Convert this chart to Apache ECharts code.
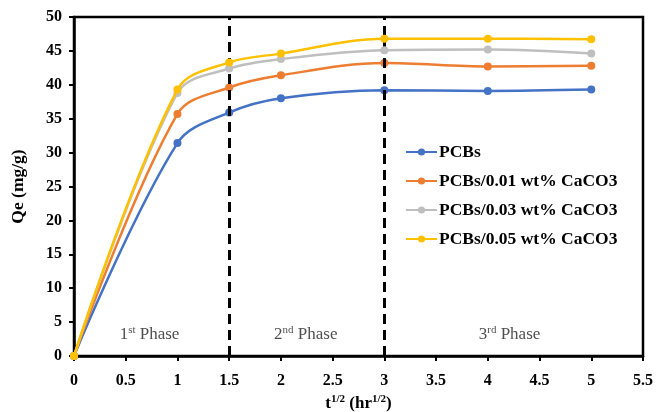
<!DOCTYPE html>
<html><head><meta charset="utf-8">
<script src="https://cdn.jsdelivr.net/npm/echarts@6/dist/echarts.min.js"></script>
<style>html,body{margin:0;padding:0;background:#fff}#c{width:668px;height:412px}</style>
</head><body><div id="c"></div>
<script>
const xValues = [0, 1, 1.5, 2, 3, 4, 5];
const seriesNames = ['PCBs', 'PCBs/0.01 wt% CaCO3', 'PCBs/0.03 wt% CaCO3', 'PCBs/0.05 wt% CaCO3'];
const pcbs = [0, 31.4, 35.9, 38.0, 39.2, 39.1, 39.3];
const pcbs001 = [0, 35.7, 39.6, 41.4, 43.2, 42.7, 42.8];
const pcbs003 = [0, 38.8, 42.4, 43.8, 45.1, 45.2, 44.6];
const pcbs005 = [0, 39.3, 43.3, 44.6, 46.8, 46.8, 46.7];
const colors = ['#4472C4', '#ED7D31', '#BFBFBF', '#FFC000'];
const phaseBounds = [1.5, 3];
const phaseLabels = [
  {x: 0.73, y: 3.2, text: '1{sup|st} Phase'},
  {x: 2.24, y: 3.2, text: '2{sup|nd} Phase'},
  {x: 4.21, y: 3.2, text: '3{sup|rd} Phase'}
];
const serif = '"Liberation Serif", "Times New Roman", serif';

const allData = [pcbs, pcbs001, pcbs003, pcbs005];
const series = allData.map((vals, i) => ({
  name: seriesNames[i],
  type: 'line',
  smooth: 0.35,
  symbol: 'circle',
  symbolSize: 8,
  data: xValues.map((x, j) => [x, vals[j]]),
  itemStyle: {color: colors[i]},
  lineStyle: {color: colors[i], width: 2.5},
  z: 3 + i
}));
series.push({
  type: 'scatter',
  data: phaseLabels.map(p => ({value: [p.x, p.y], label: {formatter: p.text}})),
  symbolSize: 0,
  silent: true,
  label: {
    show: true, position: 'inside', color: '#222',
    fontFamily: serif, fontSize: 17,
    rich: {sup: {fontFamily: serif, fontSize: 11, verticalAlign: 'top', padding: [0,0,9,0], color: '#222'}}
  },
  markLine: {
    silent: true, symbol: 'none',
    lineStyle: {color: '#000', width: 3, type: [10, 6]},
    label: {show: false},
    data: phaseBounds.map(b => ({xAxis: b}))
  },
  z: 2
});

const chart = echarts.init(document.getElementById('c'));
chart.setOption({
  animation: false,
  backgroundColor: '#fff',
  grid: {left: 74, right: 25, top: 17, bottom: 56, show: true, borderColor: '#000', borderWidth: 2.5,
    containLabel: false, outerBoundsMode: 'none'},
  legend: {
    data: seriesNames,
    orient: 'vertical', left: 400, top: 138,
    itemWidth: 31, itemHeight: 9, itemGap: 11,
    textStyle: {fontFamily: serif, fontSize: 17.5, fontWeight: 'bold', color: '#000', padding: [0,0,0,-3]}
  },
  xAxis: {
    type: 'value', min: 0, max: 5.5, interval: 0.5,
    axisLine: {show: true, lineStyle: {color: '#000', width: 2.5}},
    axisTick: {show: true, length: 5, lineStyle: {color: '#000', width: 2}},
    splitLine: {show: false},
    axisLabel: {color: '#000', fontFamily: serif, fontSize: 16, fontWeight: 'bold', margin: 17},
    name: 't{sup|1/2} (hr{sup|1/2})', nameLocation: 'middle', nameGap: 38,
    nameTextStyle: {color: '#000', fontFamily: serif, fontSize: 17, fontWeight: 'bold',
      rich: {sup: {fontFamily: serif, fontSize: 11, fontWeight: 'bold', verticalAlign: 'top', padding: [0,0,8,0], color: '#000'}}}
  },
  yAxis: {
    type: 'value', min: 0, max: 50, interval: 5,
    axisLine: {show: true, lineStyle: {color: '#000', width: 2.5}},
    axisTick: {show: true, length: 5, lineStyle: {color: '#000', width: 2}},
    splitLine: {show: false},
    axisLabel: {color: '#000', fontFamily: serif, fontSize: 16, fontWeight: 'bold', margin: 12},
    name: 'Qe (mg/g)', nameLocation: 'middle', nameGap: 47,
    nameTextStyle: {color: '#000', fontFamily: serif, fontSize: 17.5, fontWeight: 'bold'}
  },
  series: series
});
</script></body></html>
